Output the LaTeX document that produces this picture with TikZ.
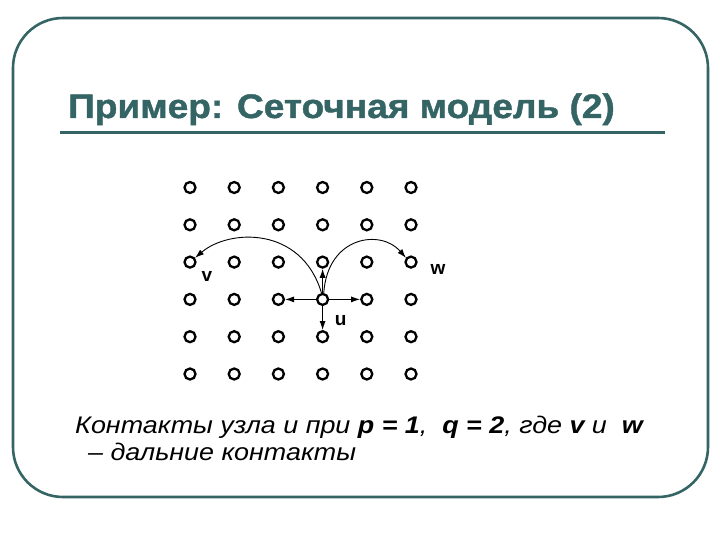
\documentclass[tikz,border=0pt]{standalone}
\usepackage{fontspec}
\setmainfont{Liberation Sans}
\newfontfamily\titleFont{Liberation Sans}[FakeStretch=1.09,FakeBold=1.2]
\newfontfamily\captionFont{Liberation Sans}[FakeStretch=1.12]
\usetikzlibrary{arrows.meta}
\definecolor{slideTeal}{RGB}{52,100,100}

\begin{document}
\begin{tikzpicture}[x=1pt,y=-1pt,
      gridNode/.style={circle,draw,line width=2.3pt,inner sep=0pt,minimum size=11pt},
      nodeLabel/.style={inner sep=0pt,font=\fontsize{19}{19}\selectfont\bfseries},
      shortArrow/.style={-{Latex[length=9pt,width=6pt]},line width=1pt},
      longArrow/.style={-{Latex[length=9pt,width=6pt]},line width=0.9pt},
      captionText/.style={anchor=base west,inner sep=0pt,
        font=\fontsize{24}{28}\captionFont\itshape},
    ]
    \useasboundingbox (0,0) rectangle (720,540);

    % frame and title
    \draw[slideTeal,line width=2.6pt,rounded corners=50pt] (13,18) rectangle (708,497);
    \node[anchor=base west,inner sep=0pt,text=slideTeal,font=\fontsize{34}{38}\titleFont\bfseries] (title) at (68,118) {Пример: Сеточная модель (2)};
    \draw[slideTeal,line width=3pt] (60,133) -- (665,133);

    % grid
    \foreach \c in {1,...,6} {
      \foreach \r in {1,...,6} {
        \node[gridNode] (n-\c-\r) at ({190+44.2*(\c-1)},{187.5+37.3*(\r-1)}) {};
      }
    }

    % local contacts of u
    \draw[shortArrow] (n-4-4) -- (n-4-3);
    \draw[shortArrow] (n-4-4) -- (n-3-4);
    \draw[shortArrow] (n-4-4) -- (n-5-4);
    \draw[shortArrow] (n-4-4) -- (n-4-5);

    % long contacts
    \draw[longArrow] (n-4-4.100) .. controls +(-20,-67) and +(34,-29) .. (n-1-3.40);
    \draw[longArrow] (n-4-4.80) .. controls +(4,-57) and +(-25,-29) .. (n-6-3.140);

    \node[nodeLabel] (uLab) at ([shift={(18,21)}]n-4-4) {u};
    \node[nodeLabel] (vLab) at ([shift={(17,14)}]n-1-3) {v};
    \node[nodeLabel] (wLab) at ([shift={(27,7)}]n-6-3) {w};

    \node[captionText] (capA) at (75,433) {Контакты узла u при \textbf{p = 1},\ \ \textbf{q = 2}, где \textbf{v} и\ \ \textbf{w}};
    \node[captionText] (capB) at (88,460) {– дальние контакты};

	\end{tikzpicture}
\end{document}
